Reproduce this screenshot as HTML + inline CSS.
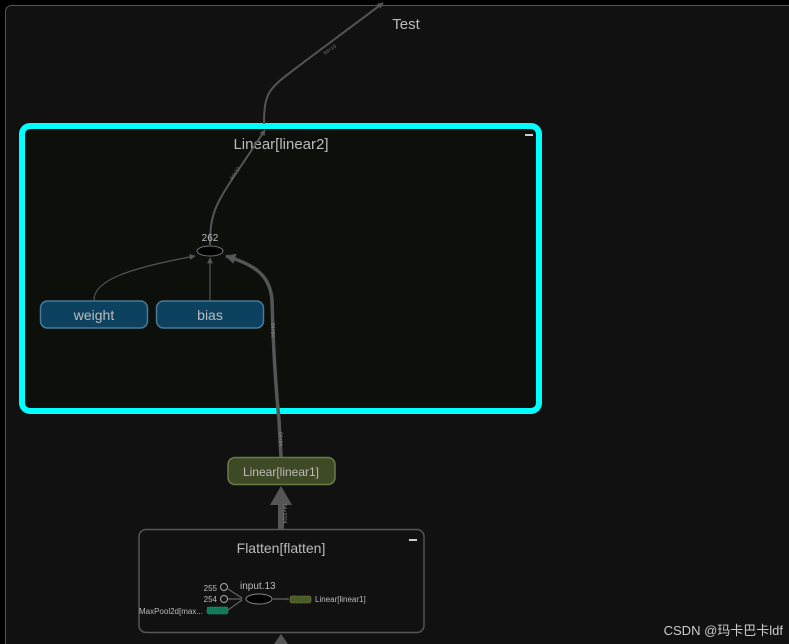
<!DOCTYPE html>
<html><head><meta charset="utf-8"><style>
html,body{margin:0;padding:0;background:#000;}
svg{display:block;font-family:"Liberation Sans","Noto Sans CJK SC",sans-serif;}
</style></head><body>
<svg width="789" height="644" viewBox="0 0 789 644" xmlns="http://www.w3.org/2000/svg">
<defs>
<marker id="a" viewBox="0 0 10 10" refX="9" refY="5" markerWidth="5" markerHeight="5" orient="auto"><path d="M0,0L10,5L0,10z" fill="#555"/></marker>
<marker id="b" viewBox="0 0 10 10" refX="9" refY="5" markerWidth="3" markerHeight="3" orient="auto"><path d="M0,0L10,5L0,10z" fill="#555"/></marker>
</defs>
<rect x="0" y="0" width="789" height="644" fill="#000"/>
<rect x="5.5" y="5.5" width="800" height="660" rx="6" fill="#111" stroke="#555" stroke-width="1"/>
<!-- linear2 box -->
<rect x="22" y="126" width="517" height="285" rx="8" fill="#0d0f0b" stroke="#00ffff" stroke-width="6"/>
<text x="281" y="149" fill="#bbb" font-size="15" text-anchor="middle">Linear[linear2]</text>
<rect x="525" y="134" width="8" height="2" fill="#ccc"/>
<text x="406" y="29" fill="#bbb" font-size="15" text-anchor="middle">Test</text>
<!-- edges -->
<path d="M210,245 C210,215 215,205 235,175 L265,130" fill="none" stroke="#555" stroke-width="2" marker-end="url(#b)"/>
<path d="M264,124 C264,90 270,88 300,65 L383,3" fill="none" stroke="#555" stroke-width="2" marker-end="url(#b)"/>
<text x="232" y="180" fill="#777" font-size="5" transform="rotate(-55 232 180)">64×10</text>
<text x="325" y="55" fill="#777" font-size="5" transform="rotate(-35 325 55)">64×10</text>
<path d="M94,300 C94,280 130,268 195,256" fill="none" stroke="#555" stroke-width="1.2" marker-end="url(#a)"/>
<path d="M210,300 L210,258" fill="none" stroke="#555" stroke-width="1.2" marker-end="url(#a)"/>
<path d="M281,457 L279,420 C275,380 273,340 272,300 C270,275 255,265 226,256" fill="none" stroke="#555" stroke-width="3.5" marker-end="url(#b)"/>
<text x="271" y="323" fill="#888" font-size="5" transform="rotate(90 271 323)">64×64</text>
<text x="279" y="432" fill="#888" font-size="5" transform="rotate(90 279 432)">64×64</text>
<!-- 262 -->
<text x="210" y="241" fill="#bbb" font-size="10" text-anchor="middle">262</text>
<ellipse cx="210" cy="251" rx="13" ry="5" fill="#000" stroke="#777" stroke-width="1"/>
<!-- weight/bias -->
<rect x="40.5" y="301" width="107" height="27" rx="7" fill="#0c4260" stroke="#4a7a95" stroke-width="1.5"/>
<text x="94" y="320" fill="#bbb" font-size="14" text-anchor="middle">weight</text>
<rect x="156.5" y="301" width="107" height="27" rx="7" fill="#0c4260" stroke="#4a7a95" stroke-width="1.5"/>
<text x="210" y="320" fill="#bbb" font-size="14" text-anchor="middle">bias</text>
<!-- linear1 -->
<rect x="228" y="457.5" width="107" height="27" rx="7" fill="#3d4a25" stroke="#6b7b45" stroke-width="1.5"/>
<text x="281" y="476" fill="#bbb" font-size="12" text-anchor="middle">Linear[linear1]</text>
<rect x="278" y="500" width="6" height="30" fill="#555"/>
<path d="M270,505 L281,486 L292,505z" fill="#555"/>
<text x="283" y="504" fill="#888" font-size="5" transform="rotate(90 283 504)">64×1024</text>
<!-- flatten -->
<rect x="139" y="529.5" width="285" height="103" rx="7" fill="#111" stroke="#555" stroke-width="1.5"/>
<text x="281" y="553" fill="#bbb" font-size="14" text-anchor="middle">Flatten[flatten]</text>
<rect x="409" y="539" width="8" height="2" fill="#ccc"/>
<text x="217" y="591" fill="#bbb" font-size="8" text-anchor="end">255</text>
<text x="217" y="602" fill="#bbb" font-size="8" text-anchor="end">254</text>
<text x="203" y="614" fill="#bbb" font-size="8" text-anchor="end">MaxPool2d[max...</text>
<circle cx="224" cy="587" r="3.5" fill="none" stroke="#aaa" stroke-width="1"/>
<circle cx="224" cy="599" r="3.5" fill="none" stroke="#aaa" stroke-width="1"/>
<rect x="207" y="607" width="21" height="7" rx="2" fill="#127a5a" stroke="#1a9a70" stroke-width="0.8" stroke-dasharray="1.5 1"/>
<path d="M228,589 L242,598 M228,599 L242,599 M228,610 L242,600" stroke="#777" stroke-width="1" fill="none"/>
<text x="240" y="589" fill="#bbb" font-size="10">input.13</text>
<ellipse cx="259" cy="599" rx="13" ry="5" fill="#000" stroke="#888" stroke-width="1"/>
<path d="M273,599 L289,599" stroke="#777" stroke-width="1" marker-end="url(#b)"/>
<rect x="290" y="596" width="21" height="7" rx="2" fill="#4a5a28" stroke="#7a8a45" stroke-width="0.8" stroke-dasharray="1.5 1"/>
<text x="315" y="602" fill="#bbb" font-size="8">Linear[linear1]</text>
<path d="M274,644 L281,634 L288,644z" fill="#555"/>
<text x="783" y="635" fill="#ccc" font-size="13" text-anchor="end">CSDN @玛卡巴卡ldf</text>
</svg>
</body></html>
